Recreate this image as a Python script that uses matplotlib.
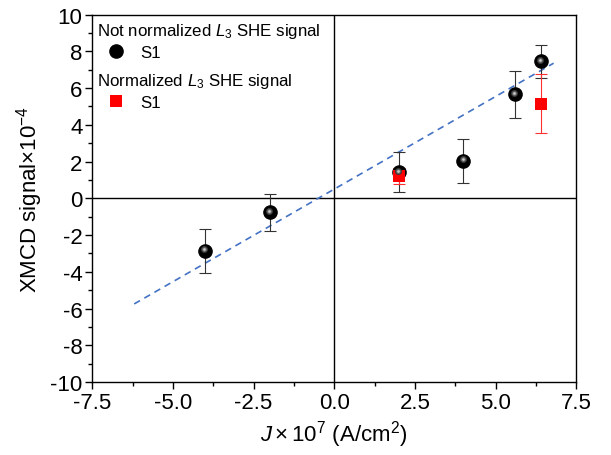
import matplotlib
matplotlib.use("Agg")
import matplotlib.pyplot as plt
from matplotlib.ticker import MultipleLocator, FormatStrFormatter
from matplotlib.lines import Line2D
from matplotlib.transforms import offset_copy

plt.rcParams['font.family'] = ['Liberation Sans', 'DejaVu Sans']
plt.rcParams['mathtext.fontset'] = 'custom'
plt.rcParams['mathtext.rm'] = 'Liberation Sans'
plt.rcParams['mathtext.it'] = 'Liberation Sans:italic'
plt.rcParams['axes.unicode_minus'] = False

# current density (x1e7 A/cm^2) and XMCD signal (x1e-4)
j_raw = [-4.0, -2.0, 2.0, 4.0, 5.6, 6.4]
xmcd_raw = [-2.85, -0.76, 1.42, 2.02, 5.65, 7.45]
err_raw = [1.2, 1.0, 1.1, 1.2, 1.3, 0.9]

j_norm = [2.0, 6.4]
xmcd_norm = [1.2, 5.15]
err_norm = [0.45, 1.6]

# linear fit drawn as dashed line
fit_x = [-6.2, 6.8]
fit_y = [-5.75, 7.35]

fig = plt.figure(figsize=(6.11, 4.56), dpi=100)
ax = fig.add_axes([0.151, 0.160, 0.792, 0.806])

ax.axhline(0, color='black', lw=1.0, zorder=1)
ax.axvline(0, color='black', lw=1.0, zorder=1)

ax.plot(fit_x, fit_y, ls=(0, (4, 3)), color='#4472c4', lw=1.2, zorder=2)

ax.errorbar(j_raw, xmcd_raw, yerr=err_raw, fmt='none', ecolor='#333333',
            elinewidth=0.8, capsize=4, capthick=0.8, zorder=3)
ax.errorbar(j_norm, xmcd_norm, yerr=err_norm, fmt='none', ecolor='#ff3030',
            elinewidth=0.8, capsize=4, capthick=0.8, zorder=3)

# black spheres: dark base plus a soft highlight
ax.plot(j_raw, xmcd_raw, 'o', color='black', ms=9.5, mec='black', zorder=4)
hl = offset_copy(ax.transData, fig=fig, x=-0.5, y=1.2, units='points')
ax.plot(j_raw, xmcd_raw, 'o', color='#3a3a3a', ms=5, mew=0, transform=hl, zorder=5)
ax.plot(j_raw, xmcd_raw, 'o', color='#777777', ms=3.2, mew=0, transform=hl, zorder=6)
ax.plot(j_raw, xmcd_raw, 'o', color='#cccccc', ms=1.8, mew=0, transform=hl, zorder=7)

ax.plot(j_norm, xmcd_norm, 's', color='red', ms=8, mew=0, zorder=4)

ax.set_xlim(-7.5, 7.5)
ax.set_ylim(-10, 10)
ax.xaxis.set_major_locator(MultipleLocator(2.5))
ax.xaxis.set_minor_locator(MultipleLocator(1.25))
ax.yaxis.set_major_locator(MultipleLocator(2))
ax.yaxis.set_minor_locator(MultipleLocator(1))
ax.xaxis.set_major_formatter(FormatStrFormatter('%.1f'))
ax.tick_params(which='major', direction='out', length=5, width=1, labelsize=16,
               top=False, right=False, pad=2)
ax.tick_params(which='minor', direction='out', length=3, width=1,
               top=False, right=False)
for s in ax.spines.values():
    s.set_linewidth(1.0)

ax.set_xlabel(r'$J\times10^7$ (A/cm$^2$)', fontsize=16, labelpad=4)
ax.set_ylabel('XMCD signal$\\times$10$^{\\mathregular{-4}}$', fontsize=16, labelpad=4)

h1 = Line2D([], [], ls='none', marker='o', color='black', ms=9.5)
h2 = Line2D([], [], ls='none', marker='s', color='red', ms=8, mew=0)
leg_kw = dict(loc='upper left', frameon=False, fontsize=12.2, title_fontsize=12.2,
              alignment='left', handlelength=2.3, handletextpad=0.3,
              borderaxespad=0.2, labelspacing=0.3)
leg1 = ax.legend([h1], ['S1'], title=r'Not normalized $L_3$ SHE signal',
                 bbox_to_anchor=(-0.012, 1.01), **leg_kw)
ax.add_artist(leg1)
ax.legend([h2], ['S1'], title=r'Normalized $L_3$ SHE signal',
          bbox_to_anchor=(-0.012, 0.874), **leg_kw)

fig.savefig('out.png', dpi=100)
